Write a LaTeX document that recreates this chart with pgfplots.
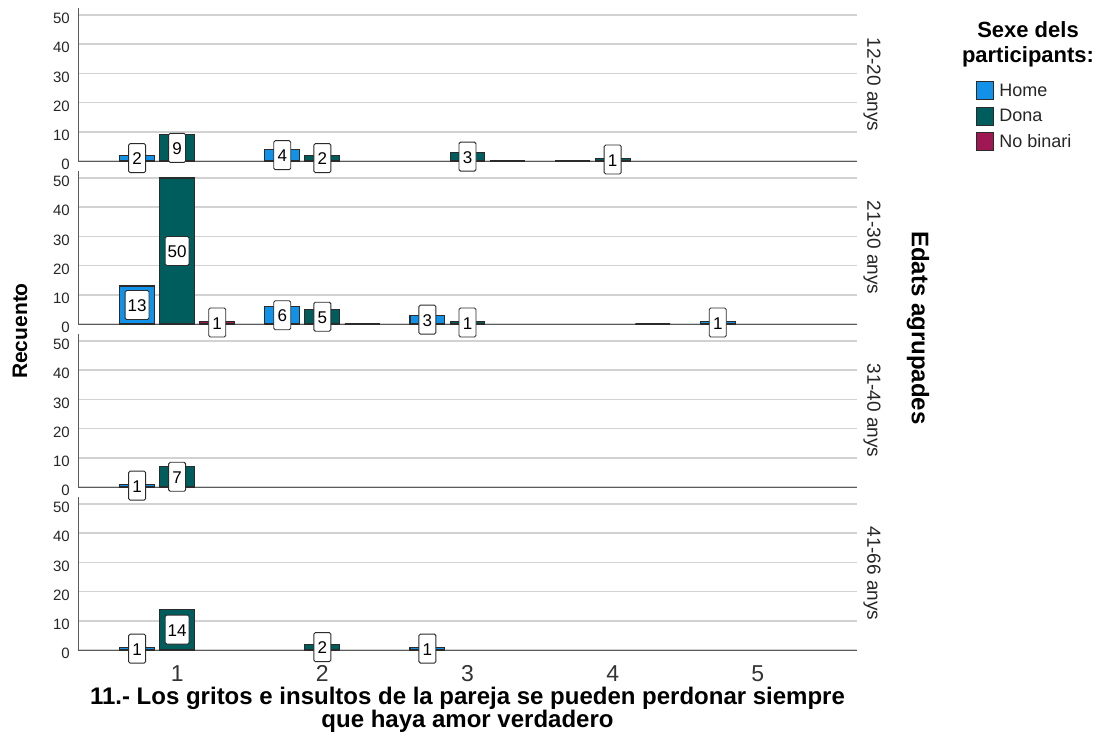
\documentclass[border=0pt]{standalone}
\usepackage{pgfplots}
\pgfplotsset{compat=1.18}
\usepackage{pgfplotstable}
\usepackage{fontspec}
\setmainfont{Liberation Sans}

\definecolor{home}{HTML}{1192E8}
\definecolor{dona}{HTML}{005D5D}
\definecolor{nb}{HTML}{9F1853}
\definecolor{gridc}{HTML}{D2D2D2}
\definecolor{axc}{HTML}{5A5A5A}
\definecolor{edge}{HTML}{2B2B2B}

% counts per answer (x) and sex, one table per age group
\pgfplotstableread{
x home dona nb
1 2 9 nan
2 4 2 nan
3 nan 3 0
4 0 1 nan
}\tA
\pgfplotstableread{
x home dona nb
1 13 50 1
2 6 5 0
3 3 1 nan
4 nan nan 0
5 1 nan nan
}\tB
\pgfplotstableread{
x home dona nb
1 1 7 nan
}\tC
\pgfplotstableread{
x home dona nb
1 1 14 nan
2 nan 2 nan
3 1 nan nan
}\tD

\tikzset{strip/.style={rotate=-90, font=\fontsize{19}{19}\selectfont, text=black!85, anchor=center, inner sep=0pt}}

\pgfplotsset{
  panel/.style={
    scale only axis, width=779pt, height=153pt,
    xmin=0.317, xmax=5.683, ymin=0, ymax=52.4,
    axis x line=bottom, axis y line=left,
    axis line style={-, draw=axc, line width=1pt},
    ytick={0,10,...,50}, xtick={1,2,3,4,5},
    major tick length=0pt,
    ymajorgrids, grid style={draw=gridc, line width=1.6pt},
    yticklabel style={font=\fontsize{15}{15}\selectfont, text=black!85, anchor=east, inner sep=0pt, xshift=-8pt, yshift=-3.5pt},
    /pgf/number format/assume math mode=true,
    clip=false,
    bar width=0.24,
  },
  hbar/.style={ybar, bar shift=0pt, fill=#1, draw=edge, line width=1.1pt},
  lab/.style={draw=none, forget plot, nodes near coords, point meta=explicit,
    restrict y to domain=0.1:100,
    nodes near coords align={anchor=center},
    every node near coord/.style={anchor=center, draw=edge, fill=white, line width=0.9pt,
      rounded corners=1.5pt, font=\fontsize{17}{17}\selectfont, inner xsep=2.5pt,
      text height=13pt, text depth=0pt, inner ysep=8pt,
      minimum width=17pt, text=black}},
}

\begin{document}
\begin{tikzpicture}
\useasboundingbox (0pt,0pt) rectangle (1107pt,-737pt);

% 12-20 anys
\begin{axis}[panel, at={(78pt,-161pt)}, anchor=south west, xticklabels={},
  legend cell align=left,
  legend image code/.code={\draw[#1] (0pt,-9pt) rectangle (17pt,9pt);},
  legend style={draw=none, fill=none, at={(1.1528,0.5229)}, anchor=north west,
    font=\fontsize{18}{18}\selectfont, inner sep=0pt, row sep=6.5pt, column sep=5pt,
    nodes={inner sep=0pt, text=black!85}}]
\addplot[hbar=home] table[x expr=\thisrow{x}-0.276, y=home]{\tA};
\addlegendentry{Home}
\addplot[hbar=dona] table[x=x, y=dona]{\tA};
\addlegendentry{Dona}
\addplot[hbar=nb] table[x expr=\thisrow{x}+0.276, y=nb]{\tA};
\addlegendentry{No binari}
\addplot[lab] table[x expr=\thisrow{x}-0.276, y expr=\thisrow{home}/2, meta=home]{\tA};
\addplot[lab] table[x=x, y expr=\thisrow{dona}/2, meta=dona]{\tA};
\node[strip] at (rel axis cs:1.0193,0.5) {12-20 anys};
\end{axis}

% 21-30 anys
\begin{axis}[panel, at={(78pt,-324pt)}, anchor=south west, xticklabels={}]
\addplot[hbar=home] table[x expr=\thisrow{x}-0.276, y=home]{\tB};
\addplot[hbar=dona] table[x=x, y=dona]{\tB};
\addplot[hbar=nb] table[x expr=\thisrow{x}+0.276, y=nb]{\tB};
\addplot[lab] table[x expr=\thisrow{x}-0.276, y expr=\thisrow{home}/2, meta=home]{\tB};
\addplot[lab] table[x=x, y expr=\thisrow{dona}/2, meta=dona]{\tB};
\addplot[lab] table[x expr=\thisrow{x}+0.276, y expr=\thisrow{nb}/2, meta=nb]{\tB};
\node[strip] at (rel axis cs:1.0193,0.5) {21-30 anys};
\end{axis}

% 31-40 anys
\begin{axis}[panel, at={(78pt,-487pt)}, anchor=south west, xticklabels={}]
\addplot[hbar=home] table[x expr=\thisrow{x}-0.276, y=home]{\tC};
\addplot[hbar=dona] table[x=x, y=dona]{\tC};
\addplot[lab] table[x expr=\thisrow{x}-0.276, y expr=\thisrow{home}/2, meta=home]{\tC};
\addplot[lab] table[x=x, y expr=\thisrow{dona}/2, meta=dona]{\tC};
\node[strip] at (rel axis cs:1.0193,0.5) {31-40 anys};
\end{axis}

% 41-66 anys
\begin{axis}[panel, at={(78pt,-650pt)}, anchor=south west,
  xticklabel style={font=\fontsize{23}{23}\selectfont, text=black!80, anchor=north, inner sep=0pt, yshift=-15pt},
  xlabel={11.- Los gritos e insultos de la pareja se pueden perdonar siempre\\que haya amor verdadero},
  xlabel style={font=\bfseries\fontsize{24}{23}\selectfont, align=center, at={(axis description cs:0.5,0)}, anchor=north, inner sep=0pt, yshift=-37pt}]
\addplot[hbar=home] table[x expr=\thisrow{x}-0.276, y=home]{\tD};
\addplot[hbar=dona] table[x=x, y=dona]{\tD};
\addplot[lab] table[x expr=\thisrow{x}-0.276, y expr=\thisrow{home}/2, meta=home]{\tD};
\addplot[lab] table[x=x, y expr=\thisrow{dona}/2, meta=dona]{\tD};
\node[strip] at (rel axis cs:1.0193,0.5) {41-66 anys};
\end{axis}

\node[rotate=90, font=\bfseries\fontsize{21}{21}\selectfont, anchor=center, inner sep=0pt] at (20pt,-331pt) {Recuento};
\node[rotate=-90, font=\bfseries\fontsize{24}{24}\selectfont, anchor=center, inner sep=0pt] at (918pt,-328pt) {Edats agrupades};
\node[align=center, font=\bfseries\fontsize{22}{25}\selectfont, anchor=north, inner sep=0pt] at (1028pt,-21pt) {Sexe dels\\participants:};
\end{tikzpicture}
\end{document}
